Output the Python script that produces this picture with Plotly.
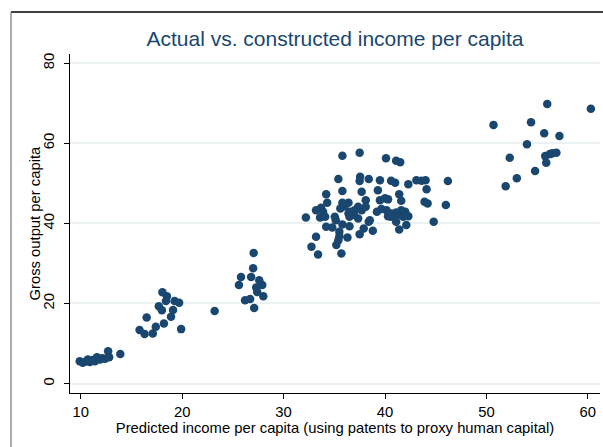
import plotly.graph_objects as go

# Predicted (constructed) income per capita and actual gross output per capita
predicted = [
    # low-income group
    9.9, 10.2, 10.5, 10.7, 10.9, 11.2, 11.4, 11.6, 11.9, 12.1, 12.4, 12.7, 12.8, 13.9,
    # second group
    15.8, 16.3, 16.5, 17.1, 17.4, 17.7, 18.0, 18.05, 18.2, 18.4, 18.5, 18.9, 19.1,
    19.25, 19.7, 19.9, 23.2,
    # third group
    25.6, 25.8, 26.2, 26.7, 26.8, 27.0, 27.05, 27.1, 27.3, 27.4, 27.6, 27.9, 28.0,
    # large middle group
    35.8, 37.5, 40.1, 41.1, 41.5, 35.4, 37.55, 37.5, 38.4, 39.5, 40.6, 41.0, 42.3,
    43.1, 43.6, 44.0, 46.2, 34.2, 35.8, 37.7, 39.3, 44.1, 41.4, 38.1, 39.5, 40.0,
    40.3, 41.6, 43.9, 44.2, 46.0, 34.3, 35.8, 36.4, 33.2, 33.7, 33.9, 35.6, 36.0,
    36.5, 37.0, 37.35, 37.7, 38.1, 39.2, 39.65, 40.15, 40.6, 41.1, 41.6, 42.0,
    32.2, 33.6, 34.1, 35.05, 35.15, 36.4, 36.5, 36.95, 37.35, 38.5, 38.4, 40.3,
    40.6, 41.1, 41.8, 42.3, 41.1, 42.1, 44.8, 34.2, 34.8, 35.8, 36.5, 37.9, 38.8,
    37.5, 35.5, 35.5, 36.3, 41.4, 33.2, 35.4, 35.2, 32.75, 33.4, 35.7,
    # high-income group
    56.0, 60.3, 50.7, 54.4, 55.7, 57.2, 54.0, 52.3, 55.8, 56.25, 56.5, 56.9,
    55.9, 54.8, 53.0, 51.9,
]
gross_output = [
    5.6, 5.2, 5.5, 6.0, 5.4, 5.9, 5.6, 6.6, 6.0, 6.3, 6.2, 8.1, 6.6, 7.4,
    13.4, 12.4, 16.5, 12.5, 14.2, 19.3, 18.3, 22.8, 15.0, 20.6, 21.8, 16.7, 18.4,
    20.6, 20.2, 13.6, 18.1,
    24.6, 26.6, 20.8, 21.1, 26.6, 28.8, 32.6, 18.9, 24.0, 22.9, 25.8, 24.6, 21.8,
    56.9, 57.65, 56.25, 55.65, 55.3, 51.1, 51.65, 50.6, 51.1, 50.8, 50.65, 50.15, 49.75,
    50.8, 50.65, 50.8, 50.6, 47.3, 48.1, 47.9, 48.3, 48.5, 47.3, 45.8, 45.8, 46.25,
    46.0, 45.65, 45.4, 45.0, 44.6, 45.15, 45.15, 45.15, 43.3, 43.9, 42.9, 43.75, 44.3,
    42.9, 43.3, 44.15, 43.3, 44.15, 42.9, 43.6, 43.3, 42.5, 42.75, 43.3, 42.9,
    41.5, 41.5, 41.65, 41.65, 40.8, 42.5, 41.65, 42.1, 41.25, 40.8, 40.4, 41.8,
    41.65, 41.8, 41.65, 41.8, 40.4, 39.6, 40.4, 39.15, 39.0, 39.75, 39.3, 38.75, 38.15,
    37.3, 37.9, 36.8, 36.5, 38.5, 36.65, 35.8, 34.6, 34.15, 32.25, 32.5,
    69.8, 68.6, 64.6, 65.25, 62.5, 61.8, 59.75, 56.4, 56.8, 57.3, 57.5, 57.65,
    55.15, 53.1, 51.25, 49.3,
]

x_ticks = [10, 20, 30, 40, 50, 60]
y_ticks = [0, 20, 40, 60, 80]

navy = "#1a476f"
font_family = "Liberation Sans, Arial, sans-serif"
label_size = 14.8

fig = go.Figure(
    go.Scatter(
        x=predicted,
        y=gross_output,
        mode="markers",
        marker=dict(size=8.5, color=navy, line=dict(width=0)),
        hoverinfo="x+y",
    )
)

axis_common = dict(
    showline=True,
    linecolor="black",
    linewidth=1.2,
    ticks="outside",
    ticklen=5,
    tickwidth=1,
    tickcolor="black",
    zeroline=False,
    tickfont=dict(family=font_family, size=label_size, color="black"),
)

fig.update_xaxes(
    **axis_common,
    range=[8.94, 61.2],
    tickvals=x_ticks,
    showgrid=False,
    ticklabelstandoff=0,
    title=dict(
        text="Predicted income per capita (using patents to proxy human capital)",
        font=dict(family=font_family, size=label_size, color="black"),
        standoff=0,
    ),
)
fig.update_yaxes(
    **axis_common,
    range=[-2.35, 82.3],
    tickvals=y_ticks,
    tickangle=-90,
    ticklabelstandoff=4,
    showgrid=True,
    gridcolor="#eaf2f3",
    gridwidth=1.5,
)

# Vertical axis title, placed beside the rotated tick labels
fig.add_annotation(
    text="Gross output per capita",
    xref="paper", yref="paper",
    x=(34 - 70) / 530, y=0.5,
    xanchor="center", yanchor="middle",
    textangle=-90, showarrow=False,
    font=dict(family=font_family, size=label_size, color="black"),
)

# Outer graph-region border (top and left edges)
fig.add_shape(type="line", xref="paper", yref="paper",
              x0=-0.1113, x1=1.1, y0=1.1239, y1=1.1239,
              line=dict(color="black", width=1.5))
fig.add_shape(type="line", xref="paper", yref="paper",
              x0=-0.1113, x1=-0.1113, y0=-0.2, y1=1.1239,
              line=dict(color="#777777", width=1.2))

fig.update_layout(
    width=603,
    height=447,
    margin=dict(l=70, r=3, t=54, b=54, autoexpand=False),
    paper_bgcolor="white",
    plot_bgcolor="white",
    showlegend=False,
    title=dict(
        text="Actual vs. constructed income per capita",
        font=dict(family=font_family, size=21, color=navy),
        x=0.5, xref="paper", xanchor="center",
        y=1 - 39 / 447, yref="container", yanchor="middle",
    ),
)

fig.write_html("out.html")
